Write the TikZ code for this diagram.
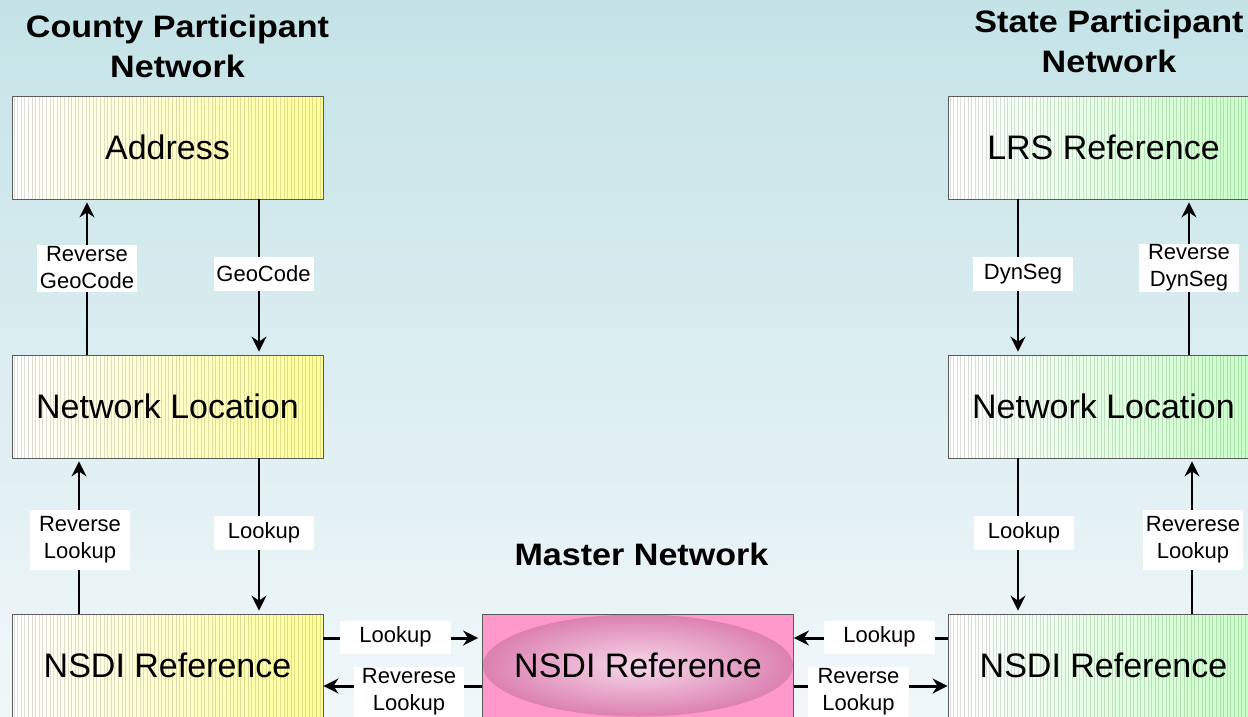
\documentclass[tikz,border=0pt]{standalone}
\usepackage{fontspec}
\setmainfont{Liberation Sans}
\newfontfamily\headfont{Liberation Sans Bold}[FakeStretch=1.1]
\usetikzlibrary{arrows.meta,calc}

\definecolor{bgtop}{RGB}{196,227,231}
\definecolor{bgbot}{RGB}{241,247,249}
\definecolor{cyel}{RGB}{255,255,150}
\definecolor{cgrn}{RGB}{198,255,198}
\definecolor{cpink}{RGB}{255,153,204}
\definecolor{cpinkd}{RGB}{220,128,176}
\definecolor{cpinkl}{RGB}{246,216,234}
\definecolor{edgegray}{RGB}{90,90,90}

\tikzset{
  box/.style={draw=edgegray, line width=0.8pt, minimum width=311pt,
    minimum height=103pt, inner sep=0pt, font=\fontsize{34}{40}\selectfont},
  stripes/.style={path picture={
    \foreach \i in {1.8,5.4,...,311}
      \draw[black, opacity=0.13, line width=0.45pt]
        ([xshift=\i pt]path picture bounding box.north west) --
        ([xshift=\i pt]path picture bounding box.south west);}},
  cbox/.style={box, left color=white, right color=cyel, stripes},
  sbox/.style={box, left color=white, right color=cgrn, stripes},
  mbox/.style={box, fill=cpink, path picture={
    \shade[inner color=cpinkl, outer color=cpinkd]
      (path picture bounding box.center) ellipse [x radius=155pt, y radius=51pt];}},
  lbl/.style={fill=white, inner sep=0pt, align=center,
    font=\fontsize{22}{27}\selectfont},
  heading/.style={font=\headfont\fontsize{31}{40}\selectfont, align=center},
  tipshape/.style={-{Stealth[length=15pt,width=15pt,inset=5pt]}},
  varr/.style={tipshape, line width=2pt, shorten >=3pt},
  harr/.style={tipshape, line width=3pt},
}

\begin{document}
\begin{tikzpicture}[x=1pt,y=-1pt]
% backdrop
\shade[top color=bgtop, bottom color=bgbot] (0,0) rectangle (1248,716);
\useasboundingbox (0,0) rectangle (1248,716);
\clip (0,0) rectangle (1248,716);

% headings
\node[heading] (ctitle) at (177.5,46) {County Participant\\Network};
\node[heading] (stitle) at (1109,41) {State Participant\\Network};
\node[heading] (mtitle) at (641.5,554) {Master Network};

% county column
\node[cbox] (addr) at (167.5,147.5) {Address};
\node[cbox] (cnl)  at (167.5,406.5) {Network Location};
\node[cbox] (cref) at (167.5,665.5) {NSDI Reference};

% state column
\node[sbox] (lrs)  at (1103.5,147.5) {LRS Reference};
\node[sbox] (snl)  at (1103.5,406.5) {Network Location};
\node[sbox] (sref) at (1103.5,665.5) {NSDI Reference};

% master
\node[mbox] (mref) at (638,665.5) {NSDI Reference};

% connector lanes
\coordinate (xa) at (87,0);
\coordinate (xb) at (259,0);
\coordinate (xc) at (79,0);
\coordinate (xd) at (1018,0);
\coordinate (xe) at (1189,0);
\coordinate (xf) at (1192,0);
\coordinate (ya) at (0,638);
\coordinate (yb) at (0,686);

% vertical connectors
\draw[varr] (cnl.north -| xa) -- (addr.south -| xa);
\draw[varr] (addr.south -| xb) -- (cnl.north -| xb);
\draw[varr] (cref.north -| xc) -- (cnl.south -| xc);
\draw[varr] (cnl.south -| xb) -- (cref.north -| xb);
\draw[varr] (lrs.south -| xd) -- (snl.north -| xd);
\draw[varr] (snl.north -| xe) -- (lrs.south -| xe);
\draw[varr] (snl.south -| xd) -- (sref.north -| xd);
\draw[varr] (sref.north -| xf) -- (snl.south -| xf);

% horizontal connectors
\draw[harr, shorten >=4pt] (cref.east |- ya) -- (mref.west |- ya);
\draw[harr] (mref.west |- yb) -- (cref.east |- yb);
\draw[harr] (sref.west |- ya) -- (mref.east |- ya);
\draw[harr] (mref.east |- yb) -- (sref.west |- yb);

% connector labels
\node[lbl, minimum width=100pt, minimum height=47pt] (rgeo) at (87,268) {Reverse\\GeoCode};
\node[lbl, minimum width=100pt, minimum height=34pt] (geo)  at (263.5,274) {GeoCode};
\node[lbl, minimum width=100pt, minimum height=60pt] (crlk) at (80,540) {Reverse\\Lookup};
\node[lbl, minimum width=100pt, minimum height=34pt] (clk)  at (264,533) {Lookup};
\node[lbl, minimum width=100pt, minimum height=34pt] (dyn)  at (1023,274) {DynSeg};
\node[lbl, minimum width=100pt, minimum height=48pt] (rdyn) at (1189,268) {Reverse\\DynSeg};
\node[lbl, minimum width=100pt, minimum height=34pt] (slk)  at (1024,533) {Lookup};
\node[lbl, minimum width=100pt, minimum height=60pt] (srlk) at (1193,540) {Reverese\\Lookup};
\node[lbl, minimum width=111pt, minimum height=33pt] (mlka) at (395.5,637) {Lookup};
\node[lbl, minimum width=110pt, minimum height=50pt] (mrla) at (409,692) {Reverese\\Lookup};
\node[lbl, minimum width=111pt, minimum height=33pt] (mlkb) at (879.5,637) {Lookup};
\node[lbl, minimum width=101pt, minimum height=50pt] (mrlb) at (858.5,692) {Reverse\\Lookup};
\end{tikzpicture}
\end{document}
